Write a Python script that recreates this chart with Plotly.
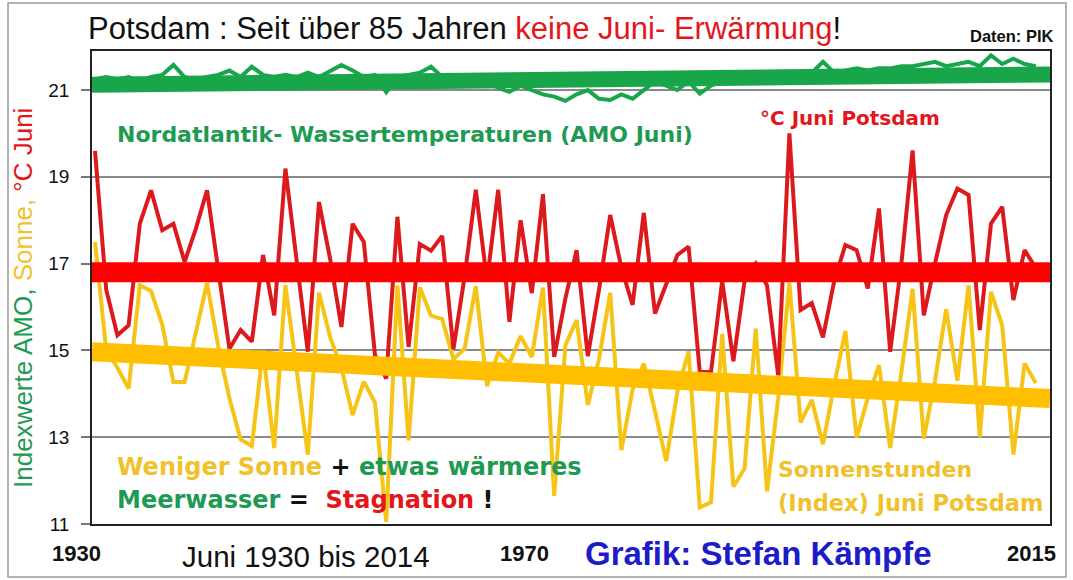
import plotly.graph_objects as go

# ---------------- data ----------------
years = list(range(1930, 2015))

temp_juni = [19.6, 16.4, 15.35, 15.58, 17.92, 18.69, 17.77, 17.92, 17.04, 17.8,
             18.69, 16.81, 15.04, 15.47, 15.2, 17.2, 15.81, 19.19, 17.1, 14.97,
             18.42, 17.1, 15.54, 17.92, 17.5, 14.89, 14.35, 18.08, 15.08, 17.45,
             17.3, 17.64, 15.03, 16.7, 18.7, 16.6, 18.7, 15.66, 18.0, 16.32,
             18.6, 14.85, 16.2, 17.31, 14.87, 16.4, 18.12, 16.9, 16.05, 18.17,
             15.85, 16.5, 17.2, 17.39, 14.5, 14.5, 16.6, 14.75, 16.6, 17.0,
             16.5, 14.43, 20.0, 15.93, 16.09, 15.3, 16.6, 17.43, 17.31, 16.43,
             18.27, 14.97, 17.0, 19.61, 15.81, 17.0, 18.12, 18.73, 18.58, 15.47,
             17.92, 18.31, 16.16, 17.31, 16.9]

sonne_index = [17.5, 15.0, 14.6, 14.12, 16.5, 16.37, 15.6, 14.27, 14.27, 15.4,
               16.55, 15.1, 13.9, 12.95, 12.8, 15.0, 12.75, 16.5, 14.55, 12.6,
               16.33, 15.3, 14.6, 13.51, 14.28, 13.8, 11.05, 16.5, 12.93, 16.45,
               15.8, 15.72, 14.8, 15.04, 16.48, 14.18, 14.95, 14.7, 15.33, 14.85,
               16.45, 11.65, 15.12, 15.7, 13.74, 14.8, 16.33, 12.7, 14.1, 14.7,
               13.6, 12.45, 14.05, 14.98, 11.38, 11.5, 15.38, 11.86, 12.28, 15.5,
               11.75, 13.9, 16.56, 13.34, 13.86, 12.84, 14.2, 15.45, 12.99, 13.9,
               14.66, 12.75, 14.5, 16.42, 12.97, 14.3, 15.95, 14.3, 16.5, 13.0,
               16.35, 15.58, 12.6, 14.7, 14.25]

amo_juni = [21.25, 21.3, 21.25, 21.3, 21.2, 21.3, 21.35, 21.58, 21.3, 21.25,
            21.3, 21.35, 21.45, 21.3, 21.54, 21.35, 21.3, 21.35, 21.3, 21.4,
            21.3, 21.45, 21.58, 21.45, 21.3, 21.35, 20.95, 21.3, 21.35, 21.4,
            21.54, 21.3, 21.2, 21.15, 21.1, 21.2, 21.05, 20.96, 21.1, 21.0,
            20.9, 20.85, 20.75, 20.9, 21.0, 20.8, 20.77, 20.9, 20.8, 21.0,
            21.2, 21.1, 21.0, 21.2, 20.92, 21.1, 21.2, 21.3, 21.25, 21.3,
            21.4, 21.3, 21.35, 21.4, 21.4, 21.65, 21.4, 21.45, 21.5, 21.45,
            21.5, 21.5, 21.55, 21.55, 21.6, 21.65, 21.55, 21.6, 21.65, 21.55,
            21.8, 21.6, 21.72, 21.6, 21.55]

trend_x = [1929.73, 2015.27]
temp_trend = [16.8, 16.8]
sonne_trend = [14.97, 13.89]
amo_trend = [21.12, 21.36]

y_ticks = [11, 13, 15, 17, 19, 21]
x_range = [1929.73, 2015.27]
y_range = [11, 21.9]

# ---------------- colours ----------------
RED_THIN = "#dc1a1d"
RED_BAND = "#ff0000"
YEL_THIN = "#f5c416"
YEL_BAND = "#ffbe00"
GREEN = "#19a64b"
GREEN_TXT = "#1e9a52"
YEL_TXT = "#f1c12c"
RED_TXT = "#e3161c"
BLUE_TXT = "#1c1cc8"

fig = go.Figure()
fig.add_trace(go.Scatter(x=years, y=sonne_index, mode="lines",
                         line=dict(color=YEL_THIN, width=4), hoverinfo="skip"))
fig.add_trace(go.Scatter(x=years, y=temp_juni, mode="lines",
                         line=dict(color=RED_THIN, width=4), hoverinfo="skip"))
fig.add_trace(go.Scatter(x=years, y=amo_juni, mode="lines",
                         line=dict(color=GREEN, width=4), hoverinfo="skip"))
fig.add_trace(go.Scatter(x=trend_x, y=sonne_trend, mode="lines",
                         line=dict(color=YEL_BAND, width=19), hoverinfo="skip"))
fig.add_trace(go.Scatter(x=trend_x, y=temp_trend, mode="lines",
                         line=dict(color=RED_BAND, width=20), hoverinfo="skip"))
fig.add_trace(go.Scatter(x=trend_x, y=amo_trend, mode="lines",
                         line=dict(color=GREEN, width=16), hoverinfo="skip"))

W, H = 1073, 580
L, R, T, B = 92, 1050, 51, 524


def px(x):
    return (x - L) / (R - L)


def py(y):
    return (B - y) / (B - T)


SANS = "Liberation Sans, Arial, sans-serif"
WIDE = "DejaVu Sans, Verdana, sans-serif"

ann = []


def add(text, x, y, size, color="#111", family=SANS, xanchor="left", bold=False, angle=0):
    if bold:
        text = "<b>" + text + "</b>"
    ann.append(dict(text=text, x=px(x), y=py(y), xref="paper", yref="paper",
                    xanchor=xanchor, yanchor="middle", showarrow=False,
                    textangle=angle,
                    font=dict(family=family, size=size, color=color)))


add('Potsdam : Seit über 85 Jahren <span style="color:%s">keine Juni- Erwärmung</span>!' % RED_TXT,
    86, 29, 31)
add("Daten: PIK", 1056, 36, 16.5, xanchor="right", bold=True)

add('<span style="color:%s">Indexwerte AMO, </span><span style="color:%s">Sonne, </span>'
    '<span style="color:%s">°C Juni</span>' % (GREEN_TXT, YEL_TXT, RED_TXT),
    23, 298, 26, xanchor="center", angle=-90)

add("Nordatlantik- Wassertemperaturen (AMO Juni)", 115, 134, 22, GREEN_TXT, WIDE, bold=True)
add("°C Juni Potsdam", 758, 118, 20, RED_TXT, WIDE, bold=True)
add('<span style="color:%s">Weniger Sonne</span> + <span style="color:%s">etwas wärmeres</span>'
    % (YEL_TXT, GREEN_TXT), 115, 467, 24, "#111", WIDE, bold=True)
add('<span style="color:%s">Meerwasser</span> =  <span style="color:%s">Stagnation</span> !'
    % (GREEN_TXT, RED_TXT), 115, 500, 24, "#111", WIDE, bold=True)
add("Sonnenstunden", 776, 469, 22, YEL_TXT, WIDE, bold=True)
add("(Index) Juni Potsdam", 776, 503, 22.5, YEL_TXT, WIDE, bold=True)

add("1930", 76, 553, 22, xanchor="center", bold=True)
add("Juni 1930 bis 2014", 306, 556, 29.5, xanchor="center")
add("1970", 524, 553, 22, xanchor="center", bold=True)
add("Grafik: Stefan Kämpfe", 758, 553, 33, BLUE_TXT, xanchor="center", bold=True)
add("2015", 1031, 553, 22, xanchor="center", bold=True)

fig.update_layout(
    width=W, height=H,
    margin=dict(l=L, r=W - R, t=T, b=H - B),
    paper_bgcolor="white", plot_bgcolor="white",
    showlegend=False,
    annotations=ann,
    shapes=[dict(type="rect", xref="paper", yref="paper",
                 x0=px(8), x1=px(1066), y0=py(577), y1=py(3),
                 line=dict(color="#9a9a9a", width=1.5))],
    xaxis=dict(range=x_range, showgrid=False, zeroline=False, showticklabels=False,
               ticks="", showline=True, mirror=True, linecolor="#222", linewidth=1.5),
    yaxis=dict(range=y_range, tickvals=y_ticks, ticks="outside", ticklen=9,
               tickcolor="#777", tickwidth=1.5, showgrid=True, gridcolor="#8a8a8a",
               gridwidth=1.5, zeroline=False, showline=True, mirror=True,
               linecolor="#222", linewidth=1.5, ticklabelstandoff=8,
               tickfont=dict(family=SANS, size=19, color="#111"),
               tickprefix="<b>", ticksuffix="</b>"),
)

fig.write_html("out.html", config={"displayModeBar": False},
               post_script="document.body.style.margin='0';document.body.style.overflow='hidden';")
